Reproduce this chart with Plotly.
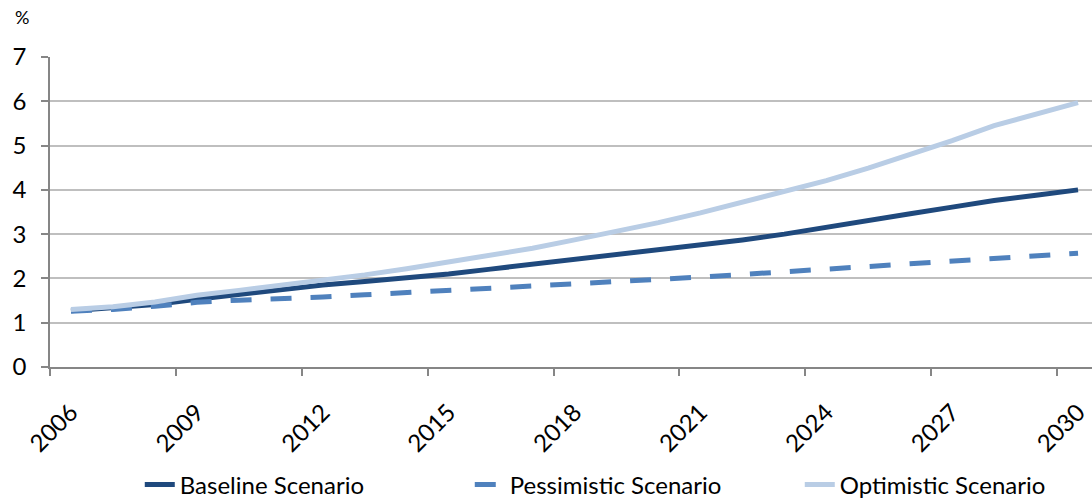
import plotly.graph_objects as go

# Annual projections, 2006-2030 (%)
years = list(range(2006, 2031))
baseline = [1.27, 1.33, 1.41, 1.53, 1.64, 1.75, 1.85, 1.93, 2.01, 2.10,
            2.21, 2.32, 2.42, 2.53, 2.65, 2.76, 2.87, 3.00, 3.16, 3.31,
            3.46, 3.61, 3.76, 3.88, 4.00]
pessimistic = [1.26, 1.30, 1.37, 1.46, 1.51, 1.54, 1.58, 1.63, 1.68, 1.73,
               1.77, 1.81, 1.86, 1.91, 1.96, 2.03, 2.09, 2.15, 2.20, 2.26,
               2.32, 2.38, 2.45, 2.51, 2.57]
optimistic = [1.30, 1.36, 1.47, 1.62, 1.73, 1.84, 1.96, 2.08, 2.22, 2.37,
              2.52, 2.68, 2.87, 3.06, 3.26, 3.48, 3.72, 3.95, 4.21, 4.49,
              4.79, 5.11, 5.45, 5.72, 5.97]

label_years = years[::3]
y_ticks = [0, 1, 2, 3, 4, 5, 6, 7]

FONT = "Lato"
AXIS_GREY = "#868686"
GRID_GREY = "#BFBFBF"

fig = go.Figure()
fig.add_trace(go.Scatter(x=years, y=baseline, mode="lines", name="Baseline Scenario",
                         line=dict(color="#1F497D", width=5)))
fig.add_trace(go.Scatter(x=years, y=pessimistic, mode="lines", name="Pessimistic Scenario",
                         line=dict(color="#4F81BD", width=5, dash="21px,19px")))
fig.add_trace(go.Scatter(x=years, y=optimistic, mode="lines", name="Optimistic Scenario",
                         line=dict(color="#B9CDE5", width=5)))

fig.update_layout(
    width=1092, height=502,
    margin=dict(l=50, r=0, t=57, b=135),
    paper_bgcolor="white", plot_bgcolor="white",
    font=dict(family=FONT, size=24, color="black"),
    showlegend=True,
    legend=dict(orientation="h", xref="container", yref="container",
                x=0.128, xanchor="left", y=0.034, yanchor="middle",
                font=dict(size=24), entrywidth=285, traceorder="normal"),
    xaxis=dict(
        range=[2005.5, 2030.333], automargin=False,
        tickmode="array", tickvals=label_years, ticktext=[str(y) for y in label_years],
        tickangle=-45, ticks="", showgrid=False, zeroline=False,
        showline=True, linecolor=AXIS_GREY, linewidth=1.5,
        minor=dict(tickmode="array", tickvals=[y - 0.5 for y in label_years],
                   ticks="outside", ticklen=7, tickcolor=AXIS_GREY, tickwidth=1.5,
                   showgrid=False),
        ticklabelstandoff=20, tickfont=dict(size=24),
    ),
    yaxis=dict(
        range=[0, 7], tickmode="array", tickvals=y_ticks, automargin=False,
        showgrid=True, gridcolor=GRID_GREY, gridwidth=1.5, zeroline=False,
        showline=True, linecolor=AXIS_GREY, linewidth=1.5,
        ticks="outside", ticklen=7, tickcolor=AXIS_GREY, tickwidth=1.5,
        ticklabelstandoff=10, tickfont=dict(size=24),
    ),
    annotations=[dict(text="%", xref="paper", yref="paper", x=0, y=1, xshift=-37, yshift=40,
                      xanchor="left", yanchor="middle", showarrow=False,
                      font=dict(size=18))],
)

fig.write_html("out.html")
